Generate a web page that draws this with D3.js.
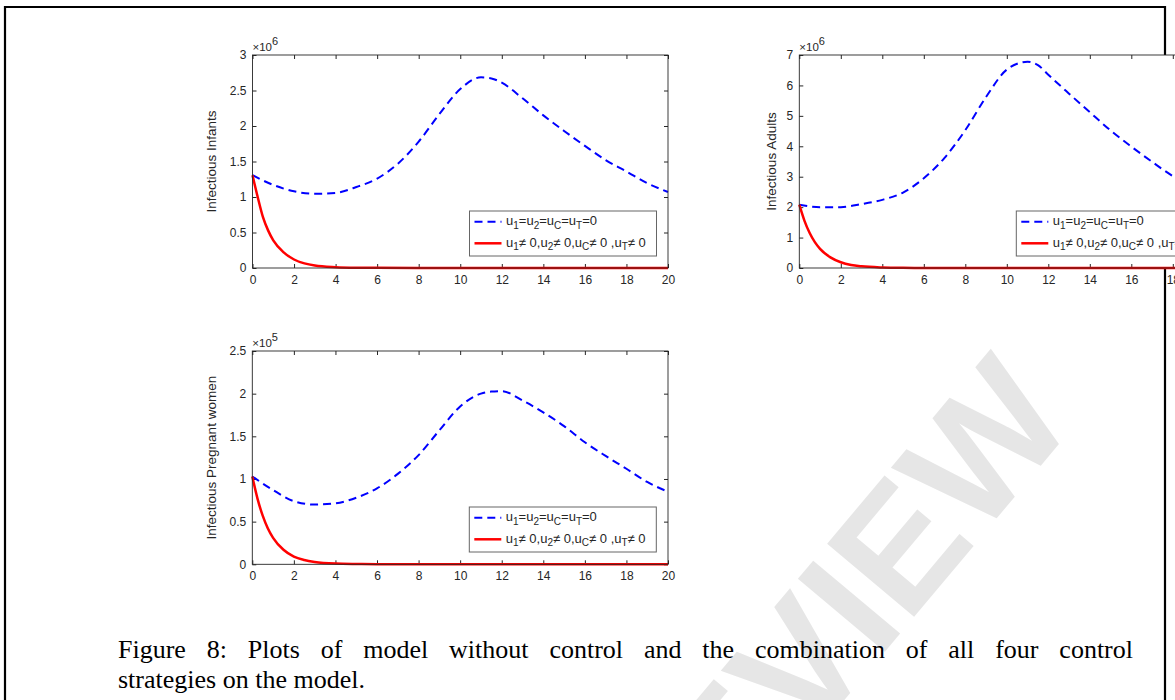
<!DOCTYPE html>
<html>
<head>
<meta charset="utf-8">
<script src="https://cdn.jsdelivr.net/npm/d3@7"></script>
<style>
    body { margin: 0; background: #fff; overflow: hidden; }
    svg { display: block; }
    .tick text { font-family: "Liberation Sans", Arial, sans-serif; font-size: 12px; fill: #262626; }
    .tick line { stroke: #262626; }
</style>
</head>
<body>
<svg id="page" width="1175" height="700"></svg>
<script>

// ---- data ----
// time axis for the "no control" runs (years)
var tNoCtrl = [0, 1, 2, 3, 4, 5, 6, 7, 8, 9, 10, 11, 11.5, 12, 13, 14, 15, 16, 17, 18, 19, 20];
// time axis for the "all controls" runs, denser at the start where it drops
var tCtrl = [0, 0.25, 0.5, 0.75, 1, 1.5, 2, 2.5, 3, 4, 5, 6, 8, 20];

// infectious infants (x 10^6)
var infantsNoCtrl = [1.307, 1.17, 1.08, 1.045, 1.058, 1.14, 1.26, 1.47, 1.78, 2.17, 2.52, 2.685, 2.67, 2.61, 2.39, 2.15, 1.93, 1.72, 1.52, 1.36, 1.195, 1.07];
var infantsCtrl = [1.307, 1.0, 0.72, 0.53, 0.39, 0.22, 0.12, 0.065, 0.035, 0.012, 0.004, 0.002, 0.001, 0];

// infectious adults (x 10^6)
var adultsNoCtrl = [2.08, 2.0, 2.0, 2.1, 2.24, 2.48, 2.95, 3.62, 4.53, 5.62, 6.52, 6.78, 6.67, 6.35, 5.73, 5.12, 4.52, 3.99, 3.49, 3.02, 2.65, 2.3];
var adultsCtrl = [2.08, 1.55, 1.15, 0.85, 0.63, 0.35, 0.19, 0.1, 0.055, 0.017, 0.005, 0.002, 0.001, 0];

// infectious pregnant women (x 10^5)
var pregnantNoCtrl = [1.03, 0.87, 0.74, 0.70, 0.715, 0.78, 0.89, 1.06, 1.28, 1.57, 1.85, 2.0, 2.025, 2.03, 1.92, 1.78, 1.62, 1.43, 1.27, 1.12, 0.965, 0.85];
var pregnantCtrl = [1.03, 0.77, 0.57, 0.42, 0.31, 0.17, 0.09, 0.05, 0.027, 0.008, 0.003, 0.001, 0, 0];

var xTicks = d3.range(0, 21, 2);
var captionLines = [
    "Figure 8: Plots of model without control and the combination of all four control",
    "strategies on the model."
];

// legend labels, [text, isSubscript]
var legendNoCtrl = [["u",0],["1",1],["=u",0],["2",1],["=u",0],["C",1],["=u",0],["T",1],["=0",0]];
var legendCtrl = [["u",0],["1",1],["\u2260 0,u",0],["2",1],["\u2260 0,u",0],["C",1],["\u2260 0 ,u",0],["T",1],["\u2260 0",0]];


let svg = d3.select("#page");

// page frame (the plots sit on top of it)
svg.append("path")
    .attr("d", "M5,720 V7 H1165 V720")
    .attr("fill", "none")
    .attr("stroke", "#000")
    .attr("stroke-width", 2.2);

// faint watermark
svg.append("text")
    .attr("transform", "translate(800,685) rotate(-50)")
    .attr("text-anchor", "middle")
    .attr("dominant-baseline", "middle")
    .style("font-family", "'Liberation Sans', Arial, sans-serif")
    .style("font-weight", "bold")
    .style("font-size", "165px")
    .style("fill", "#e6e6e6")
    .text("PREVIEW");


class Panel {

    constructor (cfg) {
        this.cfg = cfg;
        this.g = svg.append("g").attr("transform", "translate(" + cfg.left + "," + cfg.top + ")");

        this.xScale = d3.scaleLinear().domain([0, 20]).range([0, cfg.width]);
        this.yScale = d3.scaleLinear().domain([0, cfg.yMax]).range([cfg.height, 0]);
    }

    draw () {
        let self = this;
        let cfg = self.cfg;
        let g = self.g;

        // axes background, covers the frame line
        g.append("rect")
            .attr("width", cfg.width)
            .attr("height", cfg.height)
            .attr("fill", "#fff");

        let yTicks = d3.range(0, cfg.yMax + 1e-9, cfg.yStep);
        let fmt = d3.format("~g");

        let xAxis = d3.axisBottom(self.xScale).tickValues(xTicks).tickSize(-4).tickPadding(7).tickFormat(fmt);
        let yAxis = d3.axisLeft(self.yScale).tickValues(yTicks).tickSize(-4).tickPadding(6).tickFormat(fmt);
        let xTop = d3.axisTop(self.xScale).tickValues(xTicks).tickSize(-4).tickFormat("");
        let yRight = d3.axisRight(self.yScale).tickValues(yTicks).tickSize(-4).tickFormat("");

        g.append("g").attr("transform", "translate(0," + cfg.height + ")").call(xAxis);
        g.append("g").call(yAxis);
        g.append("g").call(xTop);
        g.append("g").attr("transform", "translate(" + cfg.width + ",0)").call(yRight);
        g.selectAll(".domain").remove();

        // the curves
        let line = d3.line()
            .x(d => self.xScale(d[0]))
            .y(d => self.yScale(d[1]))
            .curve(d3.curveMonotoneX);

        g.append("path")
            .datum(d3.zip(tNoCtrl, cfg.noCtrl))
            .attr("d", line)
            .attr("fill", "none")
            .attr("stroke", "#0000ff")
            .attr("stroke-width", 2)
            .attr("stroke-dasharray", "8,5");

        g.append("path")
            .datum(d3.zip(tCtrl, cfg.ctrl))
            .attr("d", line)
            .attr("fill", "none")
            .attr("stroke", "#ff0000")
            .attr("stroke-width", 2.5);

        // box
        g.append("rect")
            .attr("width", cfg.width)
            .attr("height", cfg.height)
            .attr("fill", "none")
            .attr("stroke", "#262626")
            .attr("stroke-width", 0.9);

        // exponent label  x10^n
        let ex = g.append("text")
            .attr("x", 0)
            .attr("y", -4)
            .style("font-family", "'Liberation Sans', Arial, sans-serif")
            .style("font-size", "11.5px")
            .style("fill", "#262626");
        ex.append("tspan").text("\u00d710");
        ex.append("tspan").attr("dy", -6).style("font-size", "11px").text(cfg.exponent);

        // y label
        g.append("text")
            .attr("transform", "translate(" + (-cfg.labelOffset) + "," + (cfg.height / 2) + ") rotate(-90)")
            .attr("text-anchor", "middle")
            .style("font-family", "'Liberation Sans', Arial, sans-serif")
            .style("font-size", "13.5px")
            .style("fill", "#262626")
            .text(cfg.label);

        self.drawLegend();
    }

    drawLegend () {
        let lg = this.g.append("g").attr("transform", "translate(217,156)");

        lg.append("rect")
            .attr("width", 187)
            .attr("height", 45)
            .attr("fill", "#fff")
            .attr("stroke", "#666")
            .attr("stroke-width", 1);

        let rows = [
            {y: 10.7, parts: legendNoCtrl, color: "#0000ff", dash: "8,5", w: 2},
            {y: 32.3, parts: legendCtrl, color: "#ff0000", dash: null, w: 2.5}
        ];

        rows.forEach(function (r) {
            lg.append("line")
                .attr("x1", 5).attr("x2", 32)
                .attr("y1", r.y).attr("y2", r.y)
                .attr("stroke", r.color)
                .attr("stroke-width", r.w)
                .attr("stroke-dasharray", r.dash);

            let t = lg.append("text")
                .attr("x", 36.5)
                .attr("y", r.y + 3.5)
                .style("font-family", "'Liberation Sans', Arial, sans-serif")
                .style("font-size", "13px")
                .style("fill", "#262626");

            let down = false;
            r.parts.forEach(function (p) {
                let ts = t.append("tspan").text(p[0]);
                if (p[1] && !down) { ts.attr("dy", 3.5).style("font-size", "10px"); down = true; }
                else if (!p[1] && down) { ts.attr("dy", -3.5); down = false; }
            });
        });
    }
}

let panels = [
    {left: 252.5, top: 55, width: 415.5, height: 213, yMax: 3, yStep: 0.5, exponent: "6",
        label: "Infectious Infants", labelOffset: 37, noCtrl: infantsNoCtrl, ctrl: infantsCtrl},
    {left: 799.3, top: 55, width: 415, height: 213, yMax: 7, yStep: 1, exponent: "6",
        label: "Infectious Adults", labelOffset: 23.5, noCtrl: adultsNoCtrl, ctrl: adultsCtrl},
    {left: 252.3, top: 351, width: 415.7, height: 213.3, yMax: 2.5, yStep: 0.5, exponent: "5",
        label: "Infectious Pregnant women", labelOffset: 36, noCtrl: pregnantNoCtrl, ctrl: pregnantCtrl}
];

panels.forEach(function (cfg) {
    new Panel(cfg).draw();
});


// caption, first line justified to the text block
var capFont = 26, capLeft = 118, capRight = 1133;
var cap = svg.append("g")
    .style("font-family", "'Liberation Serif', 'Times New Roman', serif")
    .style("font-size", capFont + "px")
    .style("fill", "#000");

captionLines.forEach(function (lineText, i) {
    var y = 658 + i * 30;
    var words = lineText.split(" ");
    if (i == captionLines.length - 1) {
        cap.append("text").attr("x", capLeft).attr("y", y).text(lineText);
        return;
    }
    var nodes = words.map(w => cap.append("text").attr("y", y).text(w));
    var widths = nodes.map(n => n.node().getComputedTextLength());
    var gap = (capRight - capLeft - d3.sum(widths)) / (words.length - 1);
    var x = capLeft;
    nodes.forEach(function (n, k) {
        n.attr("x", x);
        x += widths[k] + gap;
    });
});

</script>
</body>
</html>
